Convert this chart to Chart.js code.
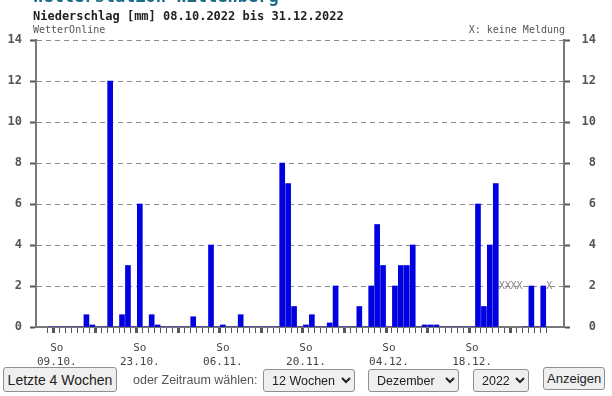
<!DOCTYPE html>
<html lang="de">
<head>
    <meta charset="UTF-8">
    <title>Niederschlag Wittenberg</title>
    <script src="https://cdn.jsdelivr.net/npm/chart.js"></script>
    <style>
        body {
            margin: 0;
            background: #fff;
            width: 612px;
            height: 396px;
            overflow: hidden;
            position: relative;
            font-family: "DejaVu Sans Mono", monospace;
        }

        .txt {
            position: absolute;
            line-height: 1;
            white-space: nowrap;
        }

        #station {
            left: 33px;
            top: -12px;
            font-size: 17px;
            font-weight: bold;
            color: #1d6a8a;
        }

        #titel {
            left: 33px;
            top: 10px;
            font-size: 12px;
            font-weight: bold;
            color: #222;
        }

        #quelle {
            left: 33px;
            top: 25px;
            font-size: 10px;
            color: #555;
        }

        #legende {
            right: 47px;
            top: 25px;
            font-size: 10px;
            color: #555;
        }

        #chartBox {
            position: absolute;
            left: 0;
            top: 0;
        }

        .ctl {
            position: absolute;
            font-family: "Liberation Sans", Arial, sans-serif;
            font-size: 13px;
            color: #222;
            box-sizing: border-box;
            white-space: nowrap;
        }

        button.ctl, select.ctl {
            background: #efefef;
            border: 1px solid #8f8f8f;
            border-radius: 3px;
            padding: 0 3px;
        }

        select.ctl {
            font-size: 12.5px;
            padding: 0 1px 0 4px;
        }
    </style>
</head>
<body>
    <div id="chartBox">
        <canvas id="myChart" width="612" height="370"></canvas>
    </div>

    <div class="txt" id="station">Wetterstation Wittenberg</div>
    <div class="txt" id="titel">Niederschlag [mm] 08.10.2022 bis 31.12.2022</div>
    <div class="txt" id="quelle">WetterOnline</div>
    <div class="txt" id="legende">X: keine Meldung</div>

    <!-- Formular unter dem Diagramm -->
    <button class="ctl" style="left:3px; top:367px; width:114px; height:25px; font-size:14px;">Letzte 4 Wochen</button>
    <span class="ctl" style="left:133px; top:373px; font-size:12.5px; color:#555;">oder Zeitraum wählen:</span>
    <select class="ctl" style="left:263px; top:369px; width:92px; height:23px;"><option>12 Wochen</option></select>
    <select class="ctl" style="left:368px; top:369px; width:91px; height:23px;"><option>Dezember</option></select>
    <select class="ctl" style="left:473px; top:369px; width:56px; height:23px;"><option>2022</option></select>
    <button class="ctl" style="left:543px; top:367px; width:62px; height:23px;">Anzeigen</button>

    <script>
        // Tageswerte in mm, null = keine Meldung
        const startDatum = new Date(2022, 9, 8);
        const oktober = [0, 0, 0, 0, 0, 0, 0.6, 0.1, 0, 0, 12, 0, 0.6, 3, 0, 6, 0, 0.6, 0.1, 0, 0, 0, 0, 0];
        const november = [0.5, 0, 0, 4, 0, 0.1, 0, 0, 0.6, 0, 0, 0, 0, 0, 0, 8, 7, 1, 0, 0.1,
                          0.6, 0, 0, 0.2, 2, 0, 0, 0, 1, 0];
        const dezember = [2, 5, 3, 0, 2, 3, 3, 4, 0, 0.1, 0.1, 0.1, 0, 0, 0, 0, 0, 0, 6, 1,
                          4, 7, null, null, null, null, 0, 2, 0, 2, null];
        const yTicks = [0, 2, 4, 6, 8, 10, 12, 14];

        const werte = oktober.concat(november, dezember);
        const datum = (i) => {
            const d = new Date(startDatum);
            d.setDate(d.getDate() + i);
            return d;
        };
        const tage = werte.map((_, i) => {
            const d = datum(i);
            return String(d.getDate()).padStart(2, '0') + '.' + String(d.getMonth() + 1).padStart(2, '0') + '.';
        });
        const wochentag = werte.map((_, i) => datum(i).getDay());

        const punkte = werte.map((v, i) => ({ x: i, y: v }));
        const letzterTag = werte.length - 1;

        // "X" fuer fehlende Meldungen
        const keineMeldung = {
            id: 'keineMeldung',
            afterDatasetsDraw(chart) {
                const ctx = chart.ctx;
                const xs = chart.scales.x;
                const ys = chart.scales.y;
                ctx.save();
                ctx.font = '10px "DejaVu Sans Mono", monospace';
                ctx.fillStyle = '#888';
                ctx.textAlign = 'center';
                ctx.textBaseline = 'middle';
                werte.forEach((v, i) => {
                    if (v === null) ctx.fillText('X', xs.getPixelForValue(i), ys.getPixelForValue(2));
                });
                ctx.restore();
            }
        };

        const yAchse = (pos) => ({
            position: pos,
            min: 0,
            max: 14,
            afterBuildTicks: (s) => { s.ticks = yTicks.map(v => ({ value: v })); },
            afterFit: (s) => { s.width = pos === 'left' ? 36 : 32; },
            grid: {
                drawOnChartArea: pos === 'left',
                color: '#8a8a8a',
                lineWidth: 1,
                tickColor: '#555',
                tickWidth: 2,
                tickLength: 6,
                tickBorderDash: []
            },
            border: { display: true, color: '#777', width: 2, dash: [5, 4] },
            ticks: {
                color: '#555',
                padding: pos === 'left' ? 8 : 4,
                crossAlign: pos === 'left' ? 'near' : 'far',
                font: { family: 'DejaVu Sans Mono', size: 12, weight: 'bold' }
            }
        });

        new Chart(document.getElementById('myChart'), {
            type: 'bar',
            data: {
                datasets: [{
                    label: 'Niederschlag [mm]',
                    data: punkte,
                    backgroundColor: '#0000e0',
                    borderWidth: 0,
                    barThickness: 5
                }]
            },
            options: {
                responsive: false,
                animation: false,
                layout: { padding: { top: 40, right: 16, left: 0, bottom: 0 } },
                plugins: {
                    legend: { display: false },
                    tooltip: { enabled: false }
                },
                scales: {
                    x: {
                        type: 'linear',
                        min: -2,
                        max: letzterTag + 2,
                        afterFit: (s) => { s.height = 43; },
                        border: { display: true, color: '#777', width: 2 },
                        grid: {
                            drawOnChartArea: false,
                            drawTicks: true,
                            tickLength: 6,
                            tickColor: (c) => (c.tick && c.tick.value >= 0 && c.tick.value <= letzterTag) ? '#555' : 'rgba(0,0,0,0)',
                            tickWidth: (c) => (c.tick && wochentag[c.tick.value] === 0) ? 3 : 1
                        },
                        ticks: {
                            stepSize: 1,
                            autoSkip: false,
                            maxTicksLimit: 200,
                            maxRotation: 0,
                            padding: 9,
                            color: '#444',
                            font: { family: 'DejaVu Sans Mono', size: 11, lineHeight: 1.2 },
                            callback: (v) => {
                                if (v >= 1 && v <= letzterTag && (v - 1) % 14 === 0 && wochentag[v] === 0) {
                                    return ['So', tage[v]];
                                }
                                return '';
                            }
                        }
                    },
                    y: yAchse('left'),
                    y2: yAchse('right')
                }
            },
            plugins: [keineMeldung]
        });
    </script>
</body>
</html>
